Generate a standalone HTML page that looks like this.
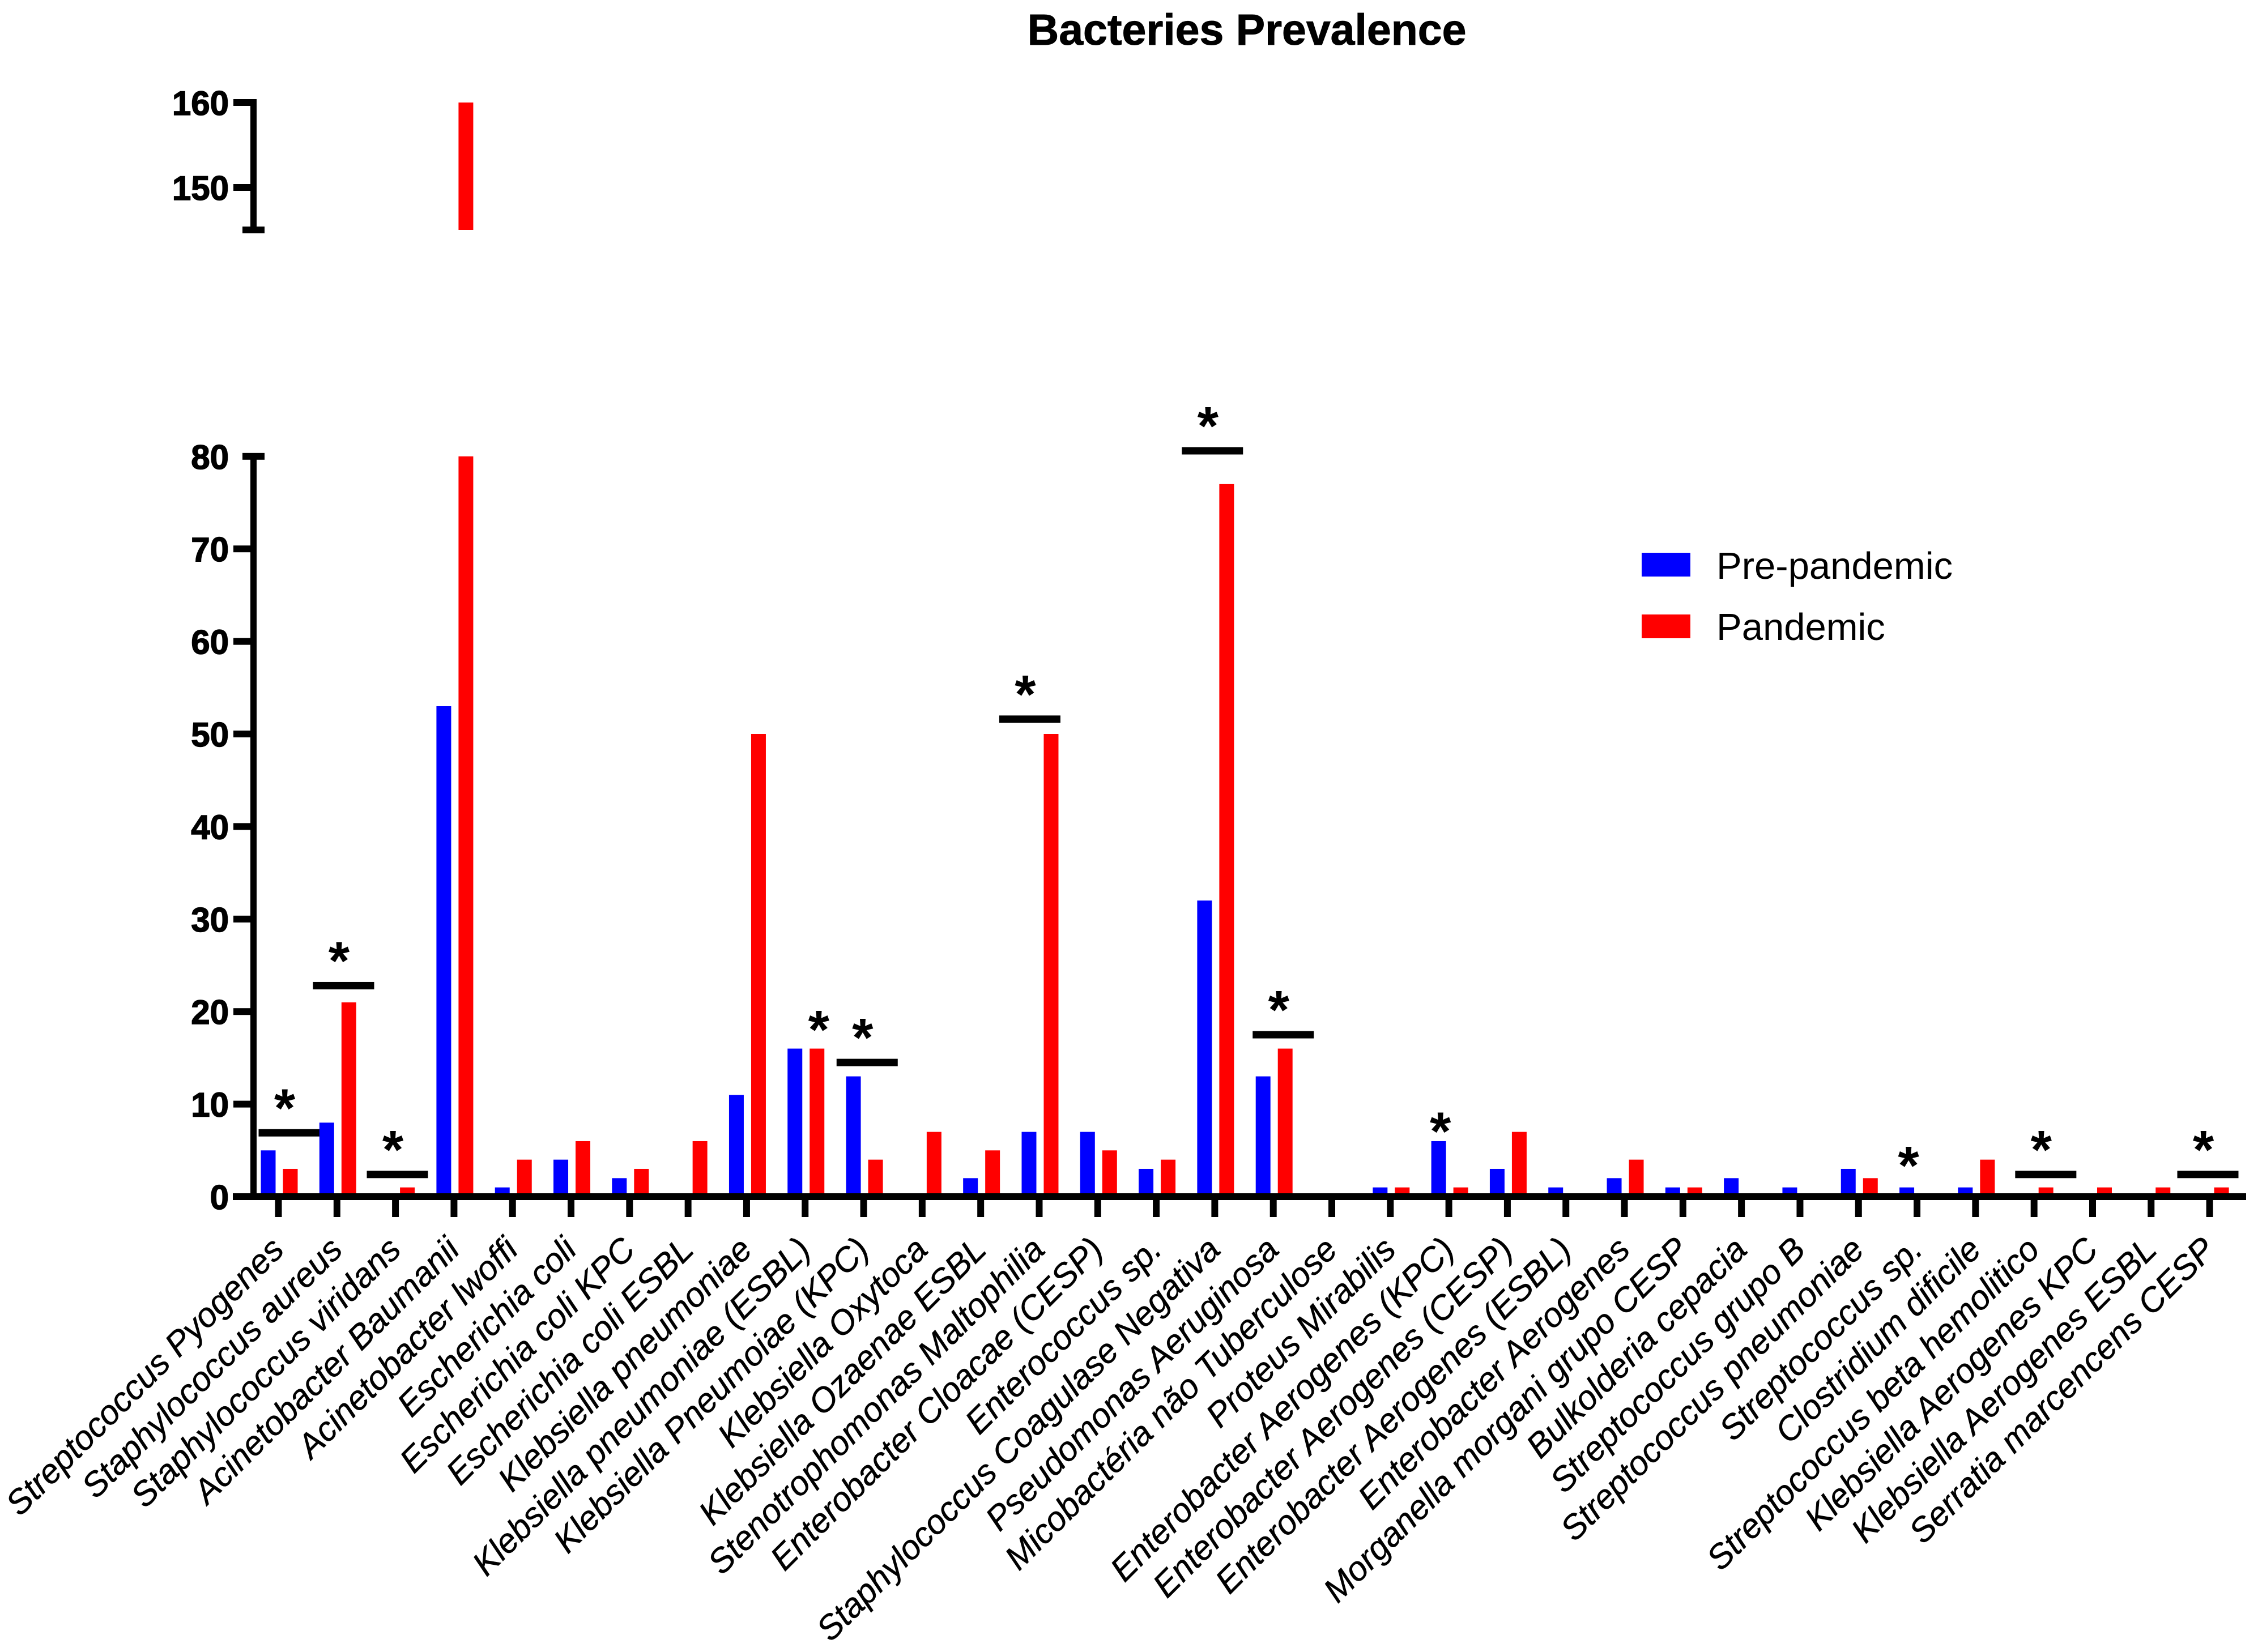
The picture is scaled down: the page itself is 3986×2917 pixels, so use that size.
<!DOCTYPE html>
<html lang="en">
<head>
<meta charset="utf-8">
<title>Bacteries Prevalence</title>
<style>
html,body{margin:0;padding:0;background:#fff;}
svg{display:block;}
text{font-family:"Liberation Sans",sans-serif;fill:#000;}
</style>
</head>
<body>
<svg id="chart" xmlns="http://www.w3.org/2000/svg" width="3986" height="2917" viewBox="0 0 3986 2917">
<rect x="0" y="0" width="3986" height="2917" fill="#fff"/>
<text x="2201" y="79" font-size="77" font-weight="bold" stroke="#000" stroke-width="1" text-anchor="middle">Bacteries Prevalence</text>
<g>
<rect x="2898" y="976" width="86" height="42" fill="#0000ff"/>
<text x="3030" y="1022" font-size="67">Pre-pandemic</text>
<rect x="2898" y="1085" width="86" height="42" fill="#ff0000"/>
<text x="3030" y="1130" font-size="67">Pandemic</text>
</g>
</svg>
<script>
const categories = [
  "Streptococcus Pyogenes","Staphylococcus aureus","Staphylococcus viridans","Acinetobacter Baumanii",
  "Acinetobacter lwoffi","Escherichia coli","Escherichia coli KPC","Escherichia coli ESBL",
  "Klebsiella pneumoniae","Klebsiella pneumoniae (ESBL)","Klebsiella Pneumoiae (KPC)","Klebsiella Oxytoca",
  "Klebsiella Ozaenae ESBL","Stenotrophomonas Maltophilia","Enterobacter Cloacae (CESP)","Enterococcus sp.",
  "Staphylococcus Coagulase Negativa","Pseudomonas Aeruginosa","Micobactéria não Tuberculose","Proteus Mirabilis",
  "Enterobacter Aerogenes (KPC)","Enterobacter Aerogenes (CESP)","Enterobacter Aerogenes (ESBL)","Enterobacter Aerogenes",
  "Morganella morgani grupo CESP","Bulkolderia cepacia","Streptococcus grupo B","Streptococcus pneumoniae",
  "Streptococcus sp.","Clostridium dificile","Streptococcus beta hemolitico","Klebsiella Aerogenes KPC",
  "Klebsiella Aerogenes ESBL","Serratia marcencens CESP"
];
const prePandemic = [5,8,0,53,1,4,2,0,11,16,13,0,2,7,7,3,32,13,0,1,6,3,1,2,1,2,1,3,1,1,0,0,0,0];
const pandemic = [3,21,1,160,4,6,3,6,50,16,4,7,5,50,5,4,77,16,0,1,1,7,0,4,1,0,0,2,0,4,1,1,1,1];
const lowerTicks = [0,10,20,30,40,50,60,70,80];
const upperTicks = [150,160];
const brokenAxisLowerMax = 80;
const brokenAxisUpperMin = 145;
const brokenAxisUpperMax = 160;
/* significance bars: centre along the category axis (in category units) and value level */
const sigBarCentres = [0.184,1.113,2.033,10.06,12.84,15.96,17.17,30.2,32.97];
const sigBarLevels = [6.9,22.8,2.4,14.5,51.6,80.6,17.5,2.4,2.4];
/* lone stars: category, series they sit over and the value level of the star centre */
const sigStarCategories = ["Klebsiella pneumoniae (ESBL)","Enterobacter Aerogenes (KPC)","Streptococcus sp."];
const sigStarSeries = ["pandemic","pre","pre"];
const sigStarLevels = [18.8,7.8,4.1];

const svg = document.getElementById('chart');
const NS = 'http://www.w3.org/2000/svg';

function xTick(i){ return 491.5 + i * (3900.6 - 491.5) / 33; }
function xBar(i, series){ return xTick(i) + 1.5 + (series === 'pre' ? -19.5 : 19.5); }
function yValue(v){
  if (v > brokenAxisLowerMax + 10) return 331 - (v - 150) * 15;
  return 2113 - v * 16.34;
}
function rect(x, y, w, h, fill){
  const r = document.createElementNS(NS, 'rect');
  r.setAttribute('x', x);
  r.setAttribute('y', y);
  r.setAttribute('width', w);
  r.setAttribute('height', h);
  r.setAttribute('fill', fill);
  return r;
}
function label(x, y, size, str){
  const t = document.createElementNS(NS, 'text');
  t.setAttribute('x', x);
  t.setAttribute('y', y);
  t.setAttribute('font-size', size);
  t.textContent = str;
  return t;
}

/* significance marks (behind bars) */
function star(x, y){
  const t = label(x, y + 45, 96, '*');
  t.setAttribute('font-weight', 'bold');
  t.setAttribute('text-anchor', 'middle');
  
  
  svg.appendChild(t);
}
sigBarCentres.forEach(function(c, k){
  const y = yValue(sigBarLevels[k]);
  const b = rect(xTick(c) - 54, y - 6.5, 108, 13, '#000');
  
  
  svg.appendChild(b);
  star(xTick(c) - 8, y - 56);
});
sigStarCategories.forEach(function(name, k){
  const i = categories.indexOf(name);
  star(xBar(i, sigStarSeries[k]) + 3, yValue(sigStarLevels[k]));
});

/* bars */
function drawBars(values, series, color, slug){
  values.forEach(function(v, i){
    if (v <= 0) return;
    const x = xBar(i, series) - 13;
    const lowTop = yValue(Math.min(v, brokenAxisLowerMax));
    const low = rect(x, lowTop, 26, yValue(0) - lowTop, color);
    
    
    svg.appendChild(low);
    if (v > brokenAxisLowerMax) {
      const upTop = yValue(v);
      const up = rect(x, upTop, 26, yValue(brokenAxisUpperMin) - upTop, color);
      
      
      svg.appendChild(up);
    }
  });
}
drawBars(prePandemic, 'pre', '#0000ff', 'pre-pandemic');
drawBars(pandemic, 'pandemic', '#ff0000', 'pandemic');

/* y axis segments */
const axisLower = rect(442, yValue(brokenAxisLowerMax), 11, yValue(0) - yValue(brokenAxisLowerMax), '#000');


svg.appendChild(axisLower);
const axisUpper = rect(442, yValue(brokenAxisUpperMax) - 6, 11, yValue(brokenAxisUpperMin) - yValue(brokenAxisUpperMax) + 6, '#000');


svg.appendChild(axisUpper);

const capLow = rect(428, yValue(brokenAxisLowerMax) - 6, 39, 12, '#000');


svg.appendChild(capLow);
const capUp = rect(428, yValue(brokenAxisUpperMin) - 6, 39, 12, '#000');


svg.appendChild(capUp);

function drawYTicks(ticks){
  ticks.forEach(function(v){
    const y = yValue(v);
    if (v !== brokenAxisLowerMax) {
      const tk = rect(412, y - 6, 41, 12, '#000');
      
      
      svg.appendChild(tk);
    }
    const t = label(404, y + 22, 60, String(v));
    t.setAttribute('font-weight', 'bold');
    t.setAttribute('stroke', '#000');
    t.setAttribute('stroke-width', '1.5');
    t.setAttribute('text-anchor', 'end');
    
    
    svg.appendChild(t);
  });
}
drawYTicks(lowerTicks);
drawYTicks(upperTicks);

/* x axis */
const axisX = rect(411, yValue(0) - 6, 3554, 12, '#000');


svg.appendChild(axisX);

categories.forEach(function(name, i){
  const x = xTick(i);
  const tk = rect(x - 6, yValue(0), 12, 36, '#000');
  
  
  svg.appendChild(tk);
  const t = label(0, 0, 60, name);
  t.setAttribute('font-style', 'italic');
  t.setAttribute('stroke', '#000');
  t.setAttribute('stroke-width', '0.5');
  t.setAttribute('text-anchor', 'end');
  t.setAttribute('transform', 'translate(' + (x + 13) + ' 2210) rotate(-45)');
  
  
  svg.appendChild(t);
});
</script>
</body>
</html>
